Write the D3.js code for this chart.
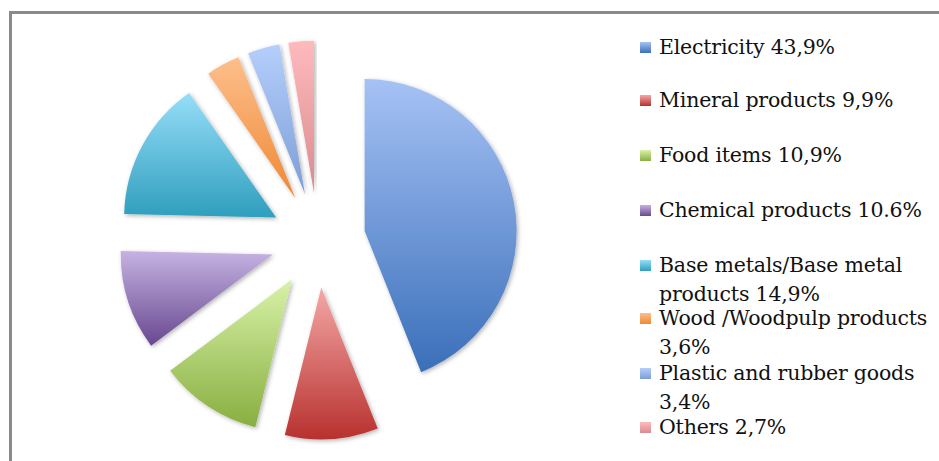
<!DOCTYPE html>
<html>
<head>
<meta charset="utf-8">
<script src="https://cdn.jsdelivr.net/npm/d3@7"></script>
<style>
  body { margin: 0; background: #fff; }
  svg { display: block; }
</style>
</head>
<body>
<script>
// shares of exports
var categories = ['Electricity', 'Mineral products', 'Food items', 'Chemical products',
  'Base metals/Base metal products', 'Wood/Woodpulp products', 'Plastic and rubber goods', 'Others'];
var values = [43.9, 9.9, 10.9, 10.6, 14.9, 3.6, 3.4, 2.7];
var legendLines = [
  ['Electricity 43,9%'],
  ['Mineral products 9,9%'],
  ['Food items 10,9%'],
  ['Chemical products 10.6%'],
  ['Base metals/Base metal', 'products 14,9%'],
  ['Wood /Woodpulp products', '3,6%'],
  ['Plastic and rubber goods', '3,4%'],
  ['Others 2,7%']
];
var topColors = ['#a6c2f5', '#f4a8a7', '#d8f2a8', '#c5b3e2', '#96def8', '#fdbf8c', '#b5cffc', '#ffbabd'];
var bottomColors = ['#3a6fb9', '#b8312e', '#88ae40', '#684890', '#2f9ebd', '#ee8834', '#7c9dd5', '#d98b8e'];

var width = 939, height = 461;
var cx = 318, cy = 240, radius = 152, explode = 47.5;

var svg = d3.select('body').append('svg')
  .attr('width', width)
  .attr('height', height);

var defs = svg.append('defs');

categories.forEach(function(c, i) {
  var g = defs.append('linearGradient')
    .attr('id', 'grad' + i)
    .attr('x1', 0).attr('y1', 0).attr('x2', 0).attr('y2', 1);
  g.append('stop').attr('offset', '0%').attr('stop-color', topColors[i]);
  g.append('stop').attr('offset', '100%').attr('stop-color', bottomColors[i]);
});

var shadow = defs.append('filter').attr('id', 'shadow')
  .attr('x', '-10%').attr('y', '-10%').attr('width', '120%').attr('height', '120%');
shadow.append('feDropShadow')
  .attr('dx', 1.5).attr('dy', 1.5)
  .attr('stdDeviation', 2)
  .attr('flood-color', '#000')
  .attr('flood-opacity', 0.3);

// frame (only top and left edges are inside the picture)
svg.append('path')
  .attr('d', 'M10.5,' + height + ' V12.5 H' + width)
  .attr('fill', 'none')
  .attr('stroke', '#8a8a8a')
  .attr('stroke-width', 3);

var pie = d3.pie().sort(null).value(function(d) { return d; });
var arc = d3.arc().innerRadius(0).outerRadius(radius);

var arcs = pie(values);

svg.append('g')
  .attr('transform', 'translate(' + cx + ',' + cy + ')')
  .selectAll('path')
  .data(arcs)
  .enter()
  .append('path')
  .attr('d', arc)
  .attr('fill', function(d, i) { return 'url(#grad' + i + ')'; })
  .attr('filter', 'url(#shadow)')
  .attr('transform', function(d) {
    var mid = (d.startAngle + d.endAngle) / 2;
    return 'translate(' + (Math.sin(mid) * explode) + ',' + (-Math.cos(mid) * explode) + ')';
  });

// legend
var legendY = [47, 100, 155, 210, 265, 318, 373, 427];
var lineH = 28.5;

var legend = svg.append('g')
  .selectAll('g')
  .data(categories)
  .enter()
  .append('g')
  .attr('transform', function(d, i) { return 'translate(640,' + legendY[i] + ')'; });

legend.append('rect')
  .attr('x', 0).attr('y', -5)
  .attr('width', 11).attr('height', 11)
  .attr('fill', function(d, i) { return 'url(#grad' + i + ')'; });

legend.append('text')
  .attr('x', 19)
  .attr('y', 0)
  .style('font-family', '"DejaVu Serif", serif')
  .style('font-size', '20.5px')
  .style('letter-spacing', '-0.2px')
  .style('fill', '#111')
  .selectAll('tspan')
  .data(function(d, i) { return legendLines[i]; })
  .enter()
  .append('tspan')
  .attr('x', 19)
  .attr('dy', function(d, j) { return j == 0 ? '0.35em' : lineH; })
  .text(function(d) { return d; });
</script>
</body>
</html>
